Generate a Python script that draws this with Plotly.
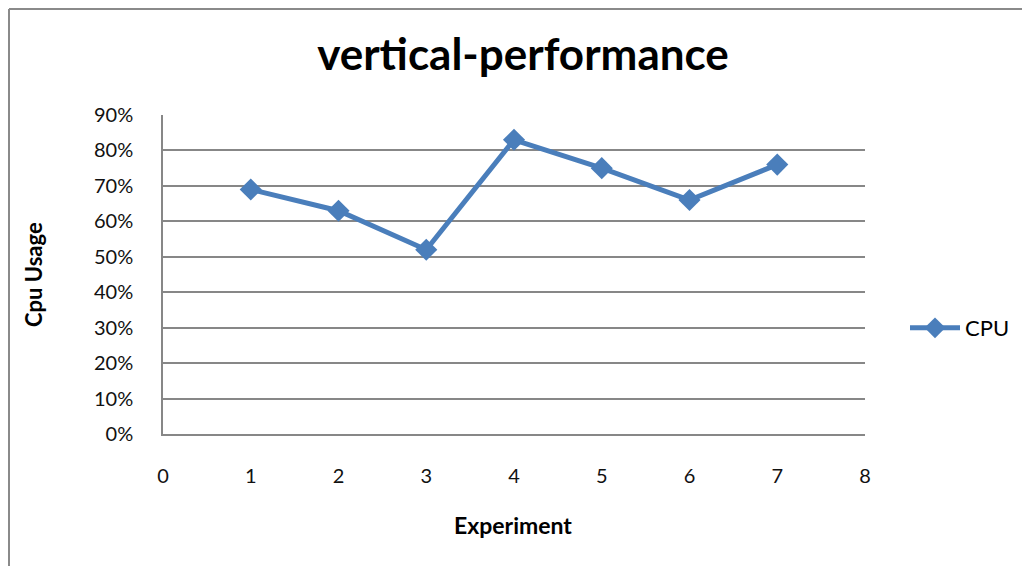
import plotly.graph_objects as go

experiments = [1, 2, 3, 4, 5, 6, 7]
cpu_usage = [0.69, 0.63, 0.52, 0.83, 0.75, 0.66, 0.76]
x_ticks = [0, 1, 2, 3, 4, 5, 6, 7, 8]
y_ticks = [0, 0.1, 0.2, 0.3, 0.4, 0.5, 0.6, 0.7, 0.8, 0.9]
y_labels = ["0%", "10%", "20%", "30%", "40%", "50%", "60%", "70%", "80%", "90%"]

FONT = "Lato, Open Sans, sans-serif"
BLUE = "#4a7ebb"
GRID = "#878787"

OFF = 8  # page body margin
W, H = 1030, 566
# plot area in page pixels
PL, PR, PT, PB = 163, 865, 115, 434
L = PL - OFF
T = PT - OFF
R = W - L - (PR - PL)
B = H - T - (PB - PT)
pw, ph = PR - PL, PB - PT

def px(x):
    return (x - PL) / pw

def py(y):
    return (PB - y) / ph

fig = go.Figure()
fig.add_trace(go.Scatter(
    x=experiments, y=cpu_usage, mode="lines+markers", name="CPU",
    line=dict(color=BLUE, width=5),
    marker=dict(symbol="diamond", size=17, color=BLUE),
))

fig.update_layout(
    width=W, height=H,
    margin=dict(l=L, r=R, t=T, b=B),
    paper_bgcolor="white", plot_bgcolor="white",
    font=dict(family=FONT, size=20, color="#000000"),
    title=dict(text="<b>vertical-performance</b>", x=(523 - OFF) / W, xanchor="center",
               y=1 - (55 - OFF) / H, yanchor="middle",
               font=dict(family=FONT, size=44, color="#000000")),
    showlegend=True,
    legend=dict(x=px(905), y=py(328), xanchor="left", yanchor="middle",
                font=dict(family=FONT, size=22), bgcolor="rgba(0,0,0,0)",
                itemwidth=50),
    xaxis=dict(range=[0, 8], tickvals=x_ticks, showgrid=False, zeroline=False,
               showline=True, linecolor=GRID, linewidth=1.5,
               ticks="", ticklabelstandoff=23,
               tickfont=dict(family=FONT, size=20, color="#111111")),
    yaxis=dict(range=[0, 0.9], tickvals=y_ticks, ticktext=y_labels,
               showgrid=True, gridcolor=GRID, gridwidth=1.5,
               zeroline=False, showline=True, linecolor=GRID, linewidth=1.5,
               ticks="", ticklabelstandoff=24,
               tickfont=dict(family=FONT, size=20, color="#111111")),
    annotations=[
        dict(text="<b>Experiment</b>", xref="paper", yref="paper",
             x=px(513), y=py(525), xanchor="center", yanchor="middle",
             showarrow=False, font=dict(family=FONT, size=23)),
        dict(text="<b>Cpu Usage</b>", xref="paper", yref="paper",
             x=px(33), y=py(275), xanchor="center", yanchor="middle",
             textangle=-90, showarrow=False, font=dict(family=FONT, size=22)),
    ],
    shapes=[
        dict(type="line", xref="paper", yref="paper",
             x0=px(9), x1=px(1040), y0=py(9), y1=py(9),
             line=dict(color="#8a8a8a", width=2)),
        dict(type="line", xref="paper", yref="paper",
             x0=px(9), x1=px(9), y0=py(9), y1=py(580),
             line=dict(color="#8a8a8a", width=2)),
    ],
)

fig.write_html("out.html")
